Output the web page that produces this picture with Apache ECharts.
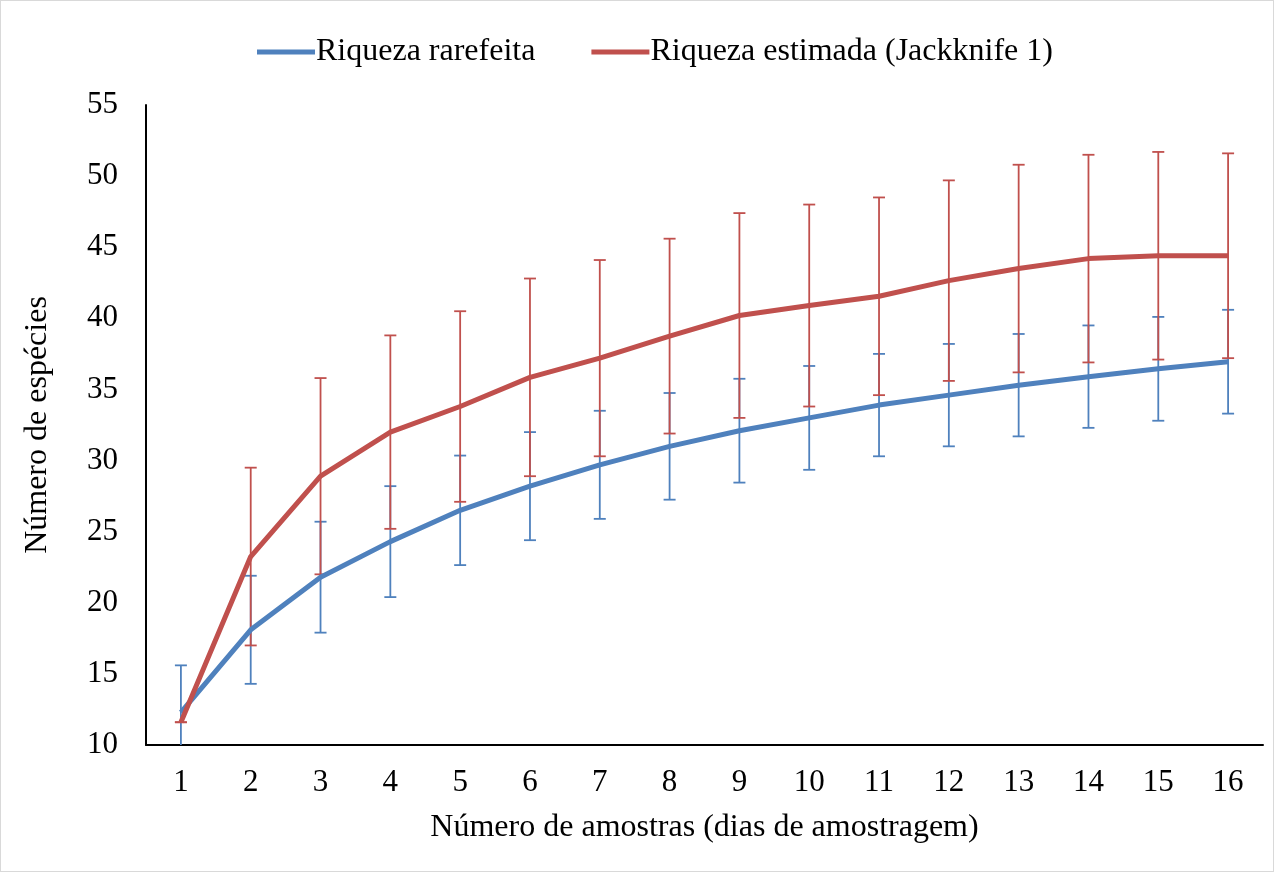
<!DOCTYPE html>
<html>
<head>
<meta charset="utf-8">
<script src="https://cdn.jsdelivr.net/npm/echarts@6/dist/echarts.min.js"></script>
<style>
html, body { margin: 0; padding: 0; background: #fff; }
#main { width: 1272px; height: 870px; border: 1px solid #d9d9d9; }
</style>
</head>
<body>
<div id="main"></div>
<script>
var amostras = ['1','2','3','4','5','6','7','8','9','10','11','12','13','14','15','16'];
var rarefeita = [12.3, 18.1, 21.8, 24.3, 26.5, 28.2, 29.7, 31.0, 32.1, 33.0, 33.9, 34.6, 35.3, 35.9, 36.45, 36.95];
var rarefeitaErro = [3.3, 3.8, 3.9, 3.9, 3.85, 3.8, 3.8, 3.75, 3.65, 3.65, 3.6, 3.6, 3.6, 3.6, 3.65, 3.65];
var jackknife = [11.6, 23.25, 28.9, 32.0, 33.8, 35.85, 37.2, 38.75, 40.2, 40.9, 41.55, 42.65, 43.5, 44.2, 44.4, 44.4];
var jackknifeErro = [0, 6.25, 6.9, 6.8, 6.7, 6.95, 6.9, 6.85, 7.2, 7.1, 6.95, 7.05, 7.3, 7.3, 7.3, 7.2];

var azul = '#4F81BD';
var vermelho = '#C0504D';
var fonte = '"Liberation Serif", "Times New Roman", serif';

function errData(vals, errs) {
    return vals.map(function (v, i) { return [i, v - errs[i], v + errs[i]]; });
}

function errRender(color) {
    return function (params, api) {
        var x = api.value(0);
        var lo = api.coord([x, api.value(1)]);
        var hi = api.coord([x, api.value(2)]);
        var cs = params.coordSys;
        var bottom = cs.y + cs.height;
        var top = cs.y;
        var yLo = Math.min(lo[1], bottom);
        var yHi = Math.max(hi[1], top);
        var w = 6;
        var st = { stroke: color, lineWidth: 1.8 };
        var kids = [
            { type: 'line', shape: { x1: lo[0], y1: yLo, x2: hi[0], y2: yHi }, style: st },
            { type: 'line', shape: { x1: hi[0] - w, y1: yHi, x2: hi[0] + w, y2: yHi }, style: st }
        ];
        if (lo[1] <= bottom) {
            kids.push({ type: 'line', shape: { x1: lo[0] - w, y1: yLo, x2: lo[0] + w, y2: yLo }, style: st });
        }
        return { type: 'group', children: kids };
    };
}

var myChart = echarts.init(document.getElementById('main'));
var option = {
    animation: false,
    textStyle: { fontFamily: fonte },
    legend: {
        top: 30,
        left: 251,
        itemGap: 56,
        itemWidth: 58,
        itemHeight: 5,
        icon: 'rect',
        textStyle: { fontFamily: fonte, fontSize: 32, color: '#000', padding: [0, 0, 0, -4] },
        data: ['Riqueza rarefeita', 'Riqueza estimada (Jackknife 1)']
    },
    grid: { left: 145, right: 10, top: 104, bottom: 126 },
    xAxis: {
        type: 'category',
        data: amostras,
        boundaryGap: true,
        name: 'Número de amostras (dias de amostragem)',
        nameLocation: 'middle',
        nameGap: 67,
        nameTextStyle: { fontFamily: fonte, fontSize: 32, color: '#000' },
        axisLine: { lineStyle: { color: '#000', width: 2 } },
        axisTick: { show: false },
        axisLabel: { fontFamily: fonte, fontSize: 31, color: '#000', margin: 22 }
    },
    yAxis: {
        type: 'value',
        min: 10,
        max: 55,
        interval: 5,
        name: 'Número de espécies',
        nameLocation: 'middle',
        nameGap: 92,
        nameTextStyle: { fontFamily: fonte, fontSize: 32, color: '#000' },
        axisLine: { show: true, lineStyle: { color: '#000', width: 2 } },
        axisTick: { show: false },
        splitLine: { show: false },
        axisLabel: { fontFamily: fonte, fontSize: 31, color: '#000', margin: 28 }
    },
    series: [
        {
            name: 'Riqueza rarefeita',
            type: 'line',
            data: rarefeita,
            symbol: 'none',
            color: azul,
            lineStyle: { width: 5, color: azul },
            z: 3
        },
        {
            name: 'Riqueza estimada (Jackknife 1)',
            type: 'line',
            data: jackknife,
            symbol: 'none',
            color: vermelho,
            lineStyle: { width: 5, color: vermelho },
            z: 3
        },
        {
            name: 'erroRarefeita',
            type: 'custom',
            data: errData(rarefeita, rarefeitaErro),
            renderItem: errRender(azul),
            encode: { x: 0, y: [1, 2] },
            silent: true,
            z: 2
        },
        {
            name: 'erroJackknife',
            type: 'custom',
            data: errData(jackknife, jackknifeErro),
            renderItem: errRender(vermelho),
            encode: { x: 0, y: [1, 2] },
            silent: true,
            z: 2
        }
    ]
};
myChart.setOption(option);
</script>
</body>
</html>
